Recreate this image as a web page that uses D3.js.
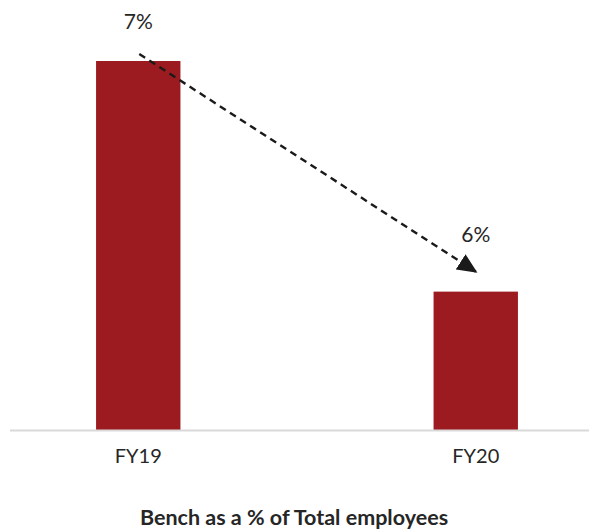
<!DOCTYPE html>
<html><head><meta charset="utf-8">
<script src="https://cdn.jsdelivr.net/npm/d3@7"></script>
<style>body{margin:0;background:#fff}</style>
</head><body>
<svg id="c" width="589" height="531"></svg>
<script>
const categories = ["FY19", "FY20"];
const values = [7, 6];
const valueLabels = ["7%", "6%"];
const title = "Bench as a % of Total employees";

const svg = d3.select("#c");
const font = "Lato, 'Open Sans', sans-serif";
const x = d3.scaleBand().domain(categories).range([10, 604]).paddingInner(0.75).paddingOuter(0.255);
const y = d3.scaleLinear().domain([5.4, 7]).range([430, 61]);

svg.append("defs").append("marker")
  .attr("id","arr").attr("viewBox","0 0 10 10").attr("refX",9).attr("refY",5)
  .attr("markerWidth",20).attr("markerHeight",20).attr("markerUnits","userSpaceOnUse")
  .attr("orient","auto")
  .append("path").attr("d","M0,0.5 L10,5 L0,9.5 Z").attr("fill","#1a1a1a");

svg.selectAll("rect.bar").data(values).join("rect").attr("class","bar")
  .attr("x",(d,i)=>x(categories[i])).attr("width",x.bandwidth())
  .attr("y",d=>y(d)).attr("height",d=>y.range()[0]-y(d))
  .attr("fill","#9b1b21");

// axis
const xAxis = svg.append("g").attr("transform",`translate(0,${y.range()[0]})`)
  .call(d3.axisBottom(x).tickSize(0).tickPadding(19));
xAxis.select(".domain").attr("stroke","#d9d9d9").attr("stroke-width",2).attr("d","M10,0.5H589");
xAxis.selectAll("text").attr("font-family",font).attr("font-size",20).attr("fill","#262626");

// value labels
svg.selectAll("text.val").data(values).join("text").attr("class","val")
  .attr("x",(d,i)=>x(categories[i])+x.bandwidth()/2)
  .attr("y",(d,i)=> i===0 ? 29 : y(d)-50)
  .attr("text-anchor","middle").attr("font-family",font).attr("font-size",21).attr("fill","#262626")
  .text((d,i)=>valueLabels[i]);

// dashed arrow
const x0 = x(categories[0])+x.bandwidth()/2+1, y0 = y(values[0])-7;
const x1 = x(categories[1])+x.bandwidth()/2, y1 = y(values[1])-20;
svg.append("line").attr("x1",x0).attr("y1",y0).attr("x2",x1).attr("y2",y1)
  .attr("stroke","#1a1a1a").attr("stroke-width",2.4).attr("stroke-dasharray","7,5")
  .attr("marker-end","url(#arr)");

svg.append("text").attr("x",294).attr("y",525).attr("text-anchor","middle")
  .attr("font-family",font).attr("font-weight","bold").attr("font-size",21.5).attr("fill","#262626")
  .text(title);
</script>
</body></html>
